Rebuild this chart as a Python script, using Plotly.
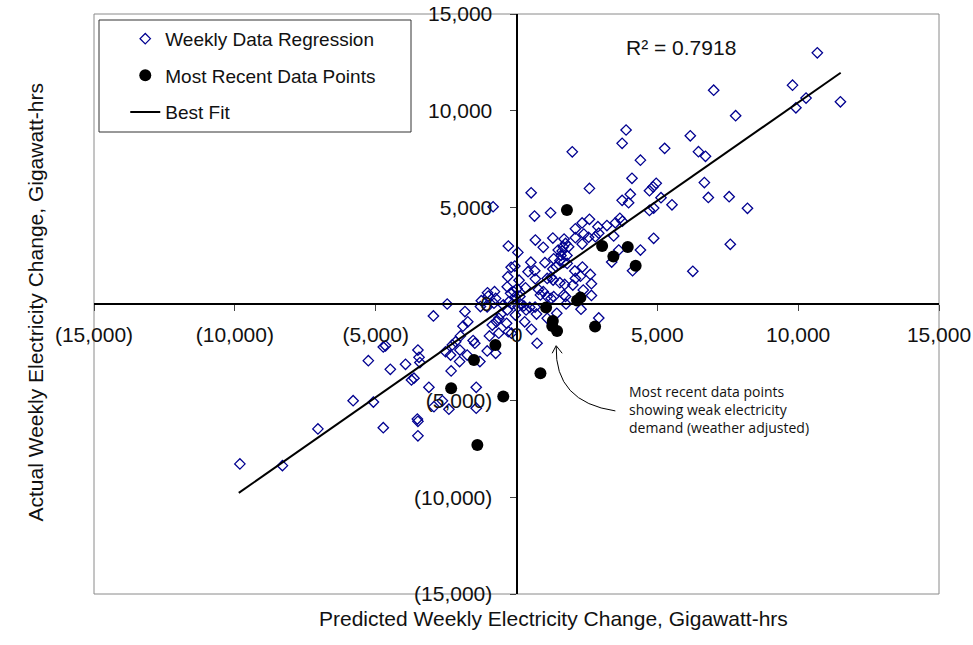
import plotly.graph_objects as go

# ---------------- data ----------------
weekly_x = [10680, 9800, 10280, 9920, 11500, 7000, 7780, 3890, 3750, 6170, 5260, 6460, 6710, 4400, 4100,
            2590, 4960, 4850, 4720, 5130, 4040, 3750, 3980, 5520, 6670, 6810, 7550, 8200, 4870, 4720,
            4870, 7590, 4400, 6260, 1980, 520, -830, 640, 1210, 3380, 4120, 2340,
            2590, 2330, 2090, 2890, 3210, 3510, 3670, 3760, 2920, 2800, 3450, 2390, 2560, 2330, 2090,
            1690, 1290, 670, 1740, 1660, 1850, 950, -290, 3630, 1480, 1620, 1580, 1790, 1320, 50, 510,
            1010, 1540, 1680, 1410, 1800, -190, -60, 650, 410, 2070, 2270, 2620, 2090, 1290, 1230, 1300,
            1090, 670, -310, 90, 320, 780, 950, 1230, 1320, 1680, 1740, 1710, 2000, 2660, 2660, 2370,
            1540, 850, 1090, -210, -100, 20, 120, -1030, -780, -330, -1250, -1000, -740, -40,
            -2950, -2460, -1830, -1730, -1900, -1280, -1040, -860, -710, -630, -550, -470, -350, -270,
            -150, -40, 50, 140, 260, 290, 340, 470, 530, 660, 710, 1090, 1430, 1760, 2290, 2920, -800, -330,
            -290, -180, -630, -960, -740, -1040, -1300, -1480, -1540, -1990, -2160, -2280, -2010, -2340,
            -2520, -2020, -1750, -2320, -1430, -1430, -2630, -2400, -3110, -2930, -3500, -3460, -3430,
            -3940, -3730, -3640, -3520, -3500, -3500, 730, -4730, -4650, -4480, -5260, -5800, -5080,
            -4730, -7050, -9820, -8310]
weekly_y = [12990, 11320, 10650, 10150, 10460, 11060, 9740, 9000, 8310, 8700, 8050, 7880, 7640, 7440, 6500,
            5980, 6240, 6060, 5860, 5500, 5680, 5360, 5240, 5130, 6280, 5510, 5550, 4950, 4960, 4840,
            3400, 3090, 2790, 1690, 7870, 5750, 5030, 4550, 4720, 2170, 1720, 1910,
            4380, 4190, 3890, 4000, 4060, 4200, 4430, 4280, 3660, 3480, 3520, 3620, 3450, 3100, 3430,
            3360, 3410, 3310, 3130, 2960, 2960, 2930, 3000, 2790, 2790, 2740, 2510, 2510, 2340, 2670, 2160,
            2140, 2240, 2170, 1930, 2100, 1900, 1960, 1720, 1670, 1710, 1440, 1530, 1320, 1810, 1380, 1240,
            1320, 1300, 1410, 1230, 840, 750, 640, 290, 380, 470, 390, 1010, 980, 1050, 440, 720,
            1100, 470, 380, 550, 640, 790, 390, 580, 640, 890, 170, 410, 290, 380,
            -620, 0, -390, -920, -1150, -130, -150, -1090, -920, -740, -520, -50, -1000, 120,
            0, -570, -140, 0, -100, -920, -310, -170, -1310, -160, -520, -740, -480, 0, -270, -720, 40, -310,
            -1430, -1510, -1510, -1650, -2550, -2430, -2980, -2030, -1890, -1650, -1950, -2120, -2380, -2640,
            -2470, -2980, -2640, -3460, -4310, -5390, -5010, -5440, -4310, -5310, -2380, -2760, -3030,
            -3120, -3930, -3840, -5950, -6070, -6820, -2030, -2220, -2160, -3380, -2930, -5000, -5070,
            -6400, -6460, -8270, -8360]

recent_x = [1790, 3040, 3440, 3950, 4230, 2150, 2270, 1050, 1290, 1270, 1440, 2790,
            -750, -1510, -2320, -470, 850, -1390]
recent_y = [4860, 3000, 2460, 2950, 1980, 180, 330, -180, -880, -1140, -1400, -1160,
            -2120, -2900, -4360, -4790, -3580, -7290]

fit_x = [-9860, 11510]
fit_y = [-9770, 11960]

tick_vals = [-15000, -10000, -5000, 0, 5000, 10000, 15000]
tick_text = ["(15,000)", "(10,000)", "(5,000)", "0", "5,000", "10,000", "15,000"]

r2_text = "R² = 0.7918"
note_text = "Most recent data points<br>showing weak electricity<br>demand (weather adjusted)"
x_title = "Predicted Weekly Electricity Change, Gigawatt-hrs"
y_title = "Actual Weekly Electricity Change, Gigawatt-hrs"

# ---------------- figure ----------------
FONT = "Liberation Sans, Arial, sans-serif"
W, H = 973, 645
ML, MR, MT, MB = 94, 34, 14, 51
PW, PH = W - ML - MR, H - MT - MB


def px_to_paper(px, py):
    return (px - ML) / PW, 1 - (py - MT) / PH


fig = go.Figure()
fig.add_trace(go.Scatter(
    x=weekly_x, y=weekly_y, mode="markers", name="Weekly Data Regression",
    legendgroup="g1", legendrank=1,
    marker=dict(symbol="diamond-open", size=8, color="#000090", line=dict(width=1.3, color="#000090")),
))
fig.add_trace(go.Scatter(
    x=fit_x, y=fit_y, mode="lines", name="Best Fit",
    legendgroup="g3", legendrank=3,
    line=dict(color="black", width=2),
))
fig.add_trace(go.Scatter(
    x=recent_x, y=recent_y, mode="markers", name="Most Recent Data Points",
    legendgroup="g2", legendrank=2,
    marker=dict(symbol="circle", size=12, color="black"),
))

axis_common = dict(
    range=[-15000, 15000], tickvals=tick_vals, ticktext=tick_text,
    anchor="free", position=0.5, showline=True, linecolor="black", linewidth=2,
    ticks="outside", ticklen=6, tickwidth=1, tickcolor="#444",
    showgrid=False, zeroline=False, fixedrange=True, automargin=False,
    tickfont=dict(family=FONT, size=21, color="#111"),
)
fig.update_xaxes(**axis_common, ticklabelstandoff=6)
fig.update_yaxes(**axis_common, ticklabelstandoff=13)

lx0, ly0 = px_to_paper(99, 20)
lx1, ly1 = px_to_paper(411, 132)
tx, ty = px_to_paper(553, 632)
yx, yy = px_to_paper(21, 303)

fig.update_layout(
    width=W, height=H, autosize=False,
    margin=dict(l=ML, r=MR, t=MT, b=MB, autoexpand=False),
    plot_bgcolor="white", paper_bgcolor="white",
    font=dict(family=FONT, color="#111"),
    showlegend=True,
    legend=dict(
        x=0.037, y=0.99, xanchor="left", yanchor="top",
        traceorder="grouped", tracegroupgap=9,
        font=dict(family=FONT, size=19, color="#111"),
        bgcolor="rgba(255,255,255,0)", borderwidth=0,
    ),
    shapes=[
        dict(type="rect", xref="paper", yref="paper", x0=0, y0=0, x1=1, y1=1,
             line=dict(color="#8a8a8a", width=1), layer="below"),
        dict(type="rect", xref="paper", yref="paper", x0=lx0, y0=ly1, x1=lx1, y1=ly0,
             line=dict(color="#333", width=1), fillcolor="white", layer="above"),
        dict(type="path", xref="x", yref="y",
             path="M 3510,-5530 Q 1350,-5070 1410,-2200",
             line=dict(color="black", width=1)),
        dict(type="path", xref="x", yref="y",
             path="M 1266,-2549 L 1408,-2156 L 1621,-2549",
             line=dict(color="black", width=1)),
    ],
    annotations=[
        dict(text=r2_text, x=5850, y=13290, xref="x", yref="y", showarrow=False,
             font=dict(family=FONT, size=21, color="#111"), xanchor="center", yanchor="middle"),
        dict(text=note_text, x=3940, y=-5480, xref="x", yref="y", showarrow=False,
             font=dict(family="Open Sans, Lato, sans-serif", size=14, color="#111"),
             xanchor="left", yanchor="middle", align="left"),
        dict(text=x_title, x=tx, y=ty, xref="paper", yref="paper", showarrow=False,
             font=dict(family=FONT, size=21, color="#111")),
        dict(text=y_title, x=yx, y=yy, xref="paper", yref="paper", showarrow=False,
             textangle=-90, font=dict(family=FONT, size=21, color="#111")),
    ],
)

fig.write_html("out.html")
